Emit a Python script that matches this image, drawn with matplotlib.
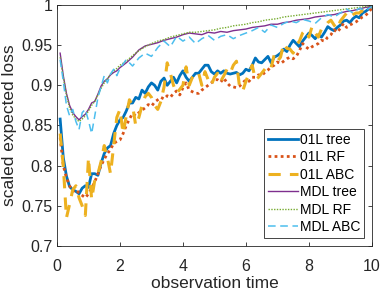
import numpy as np
import matplotlib
matplotlib.use("Agg")
import matplotlib.pyplot as plt

# time grids
t_fine = np.round(np.arange(1, 101) * 0.1, 1)  # 0.1 .. 10.0
t_mdl = [0.1, 0.2, 0.3, 0.4, 0.5, 0.6, 0.7, 0.8, 0.9, 1.0, 1.1, 1.2, 1.3, 1.4, 1.5, 1.6, 1.7, 1.8, 1.9, 2.0,
         2.2, 2.4, 2.6, 2.8, 3.0, 3.2, 3.4, 3.6, 3.8, 4.0, 4.2, 4.4, 4.6, 4.8, 5.0, 5.2, 5.4, 5.6, 5.8, 6.0,
         6.2, 6.4, 6.6, 6.8, 7.0, 7.2, 7.4, 7.6, 7.8, 8.0, 8.2, 8.4, 8.6, 8.8, 9.0, 9.2, 9.4, 9.6, 9.8, 10.0]

loss_01l_tree = [0.858, 0.81, 0.787, 0.774, 0.77, 0.768, 0.765, 0.772, 0.775, 0.773,
                 0.79, 0.79, 0.788, 0.803, 0.815, 0.822, 0.825, 0.84, 0.85, 0.857,
                 0.86, 0.868, 0.878, 0.878, 0.885, 0.883, 0.894, 0.89, 0.898, 0.903,
                 0.9, 0.894, 0.905, 0.909, 0.9, 0.905, 0.91, 0.903, 0.912, 0.918,
                 0.91, 0.905, 0.91, 0.915, 0.915, 0.92, 0.925, 0.925, 0.917, 0.914,
                 0.918, 0.915, 0.918, 0.915, 0.914, 0.915, 0.916, 0.913, 0.915, 0.92,
                 0.918, 0.925, 0.934, 0.929, 0.928, 0.932, 0.936, 0.928, 0.935, 0.937,
                 0.94, 0.945, 0.942, 0.95, 0.956, 0.952, 0.948, 0.955, 0.96, 0.965,
                 0.962, 0.958, 0.963, 0.96, 0.966, 0.973, 0.97, 0.968, 0.972, 0.975,
                 0.98, 0.981, 0.978, 0.983, 0.986, 0.984, 0.99, 0.992, 0.995, 0.998]

loss_01l_rf = [0.835, 0.8, 0.785, 0.775, 0.768, 0.77, 0.766, 0.763, 0.76, 0.765,
               0.772, 0.78, 0.79, 0.8, 0.808, 0.815, 0.82, 0.828, 0.83, 0.832,
               0.84, 0.85, 0.858, 0.865, 0.862, 0.866, 0.869, 0.872, 0.876, 0.874,
               0.879, 0.882, 0.885, 0.883, 0.887, 0.885, 0.89, 0.893, 0.888, 0.897,
               0.903, 0.894, 0.892, 0.89, 0.89, 0.894, 0.897, 0.9, 0.903, 0.907,
               0.907, 0.904, 0.909, 0.903, 0.899, 0.898, 0.897, 0.899, 0.903, 0.907,
               0.905, 0.91, 0.91, 0.913, 0.912, 0.916, 0.919, 0.923, 0.925, 0.929,
               0.927, 0.93, 0.933, 0.935, 0.933, 0.936, 0.943, 0.952, 0.948, 0.945,
               0.948, 0.95, 0.952, 0.956, 0.955, 0.96, 0.963, 0.969, 0.966, 0.971,
               0.977, 0.972, 0.975, 0.977, 0.979, 0.982, 0.985, 0.987, 0.991, 0.996]

loss_01l_abc = [0.84, 0.8, 0.735, 0.752, 0.77, 0.775, 0.76, 0.75, 0.738, 0.81,
                0.758, 0.782, 0.79, 0.805, 0.825, 0.81, 0.79, 0.825, 0.86, 0.87,
                0.84, 0.862, 0.882, 0.875, 0.85, 0.86, 0.875, 0.886, 0.89, 0.885,
                0.875, 0.87, 0.88, 0.898, 0.928, 0.915, 0.9, 0.89, 0.895, 0.9,
                0.923, 0.9, 0.91, 0.916, 0.915, 0.9, 0.917, 0.907, 0.9, 0.91,
                0.915, 0.905, 0.912, 0.92, 0.915, 0.925, 0.93, 0.897, 0.893, 0.905,
                0.915, 0.925, 0.907, 0.91, 0.915, 0.92, 0.925, 0.922, 0.938, 0.93,
                0.935, 0.952, 0.946, 0.945, 0.94, 0.95, 0.955, 0.965, 0.969, 0.96,
                0.973, 0.965, 0.96, 0.97, 0.973, 0.978, 0.981, 0.975, 0.97, 0.98,
                0.985, 0.99, 0.985, 0.988, 0.99, 0.99, 0.993, 0.992, 0.995, 0.997]

loss_mdl_tree = [0.94, 0.912, 0.89, 0.875, 0.866, 0.861, 0.857, 0.861, 0.864, 0.870,
                 0.878, 0.880, 0.889, 0.899, 0.905, 0.908, 0.913, 0.916, 0.918, 0.922,
                 0.928, 0.935, 0.944, 0.949, 0.951, 0.953, 0.956, 0.958, 0.960, 0.963,
                 0.965, 0.964, 0.963, 0.966, 0.965, 0.967, 0.966, 0.968, 0.969, 0.970,
                 0.972, 0.973, 0.974, 0.976, 0.976, 0.978, 0.979, 0.981, 0.982, 0.983,
                 0.985, 0.986, 0.987, 0.988, 0.990, 0.992, 0.993, 0.995, 0.997, 0.998]

loss_mdl_rf = [0.935, 0.91, 0.888, 0.872, 0.863, 0.858, 0.855, 0.858, 0.862, 0.868,
               0.875, 0.88, 0.888, 0.896, 0.903, 0.908, 0.914, 0.918, 0.921, 0.925,
               0.93, 0.937, 0.943, 0.948, 0.952, 0.955, 0.957, 0.96, 0.962, 0.964,
               0.966, 0.966, 0.967, 0.968, 0.969, 0.971, 0.972, 0.974, 0.975, 0.976,
               0.978, 0.979, 0.981, 0.982, 0.983, 0.985, 0.986, 0.987, 0.988, 0.989,
               0.99, 0.991, 0.992, 0.993, 0.994, 0.995, 0.996, 0.997, 0.998, 0.999]

loss_mdl_abc = [0.932, 0.905, 0.875, 0.862, 0.87, 0.855, 0.845, 0.866, 0.87, 0.856,
                0.84, 0.862, 0.885, 0.898, 0.912, 0.903, 0.914, 0.92, 0.912, 0.921,
                0.932, 0.924, 0.934, 0.94, 0.936, 0.947, 0.955, 0.948, 0.961, 0.955,
                0.96, 0.952, 0.958, 0.962, 0.956, 0.961, 0.963, 0.958, 0.962, 0.965,
                0.968, 0.972, 0.966, 0.975, 0.972, 0.977, 0.98, 0.978, 0.982, 0.98,
                0.977, 0.984, 0.988, 0.985, 0.99, 0.995, 0.99, 0.996, 0.993, 0.998]

x_ticks = [0, 2, 4, 6, 8, 10]
y_ticks = [0.7, 0.75, 0.8, 0.85, 0.9, 0.95, 1]
y_tick_labels = ["0.7", "0.75", "0.8", "0.85", "0.9", "0.95", "1"]

plt.rcParams["font.family"] = ["Liberation Sans", "DejaVu Sans"]

fig = plt.figure(figsize=(3.81, 2.91), dpi=100)
ax = fig.add_axes([0.1496, 0.1546, 0.8264, 0.8284])

ax.plot(t_fine, loss_01l_tree, color="#0072BD", linewidth=2.0, label="01L tree")
ax.plot(t_fine, loss_01l_rf, color="#D95319", linewidth=2.0, linestyle=(0, (1, 1.2)), label="01L RF")
ax.plot(t_fine, loss_01l_abc, color="#EDB120", linewidth=2.2, linestyle=(0, (4, 3)), label="01L ABC")
ax.plot(t_mdl, loss_mdl_tree, color="#7E2F8E", linewidth=1.0, label="MDL tree")
ax.plot(t_mdl, loss_mdl_rf, color="#77AC30", linewidth=1.0, linestyle=(0, (1, 1)), label="MDL RF")
ax.plot(t_mdl, loss_mdl_abc, color="#4DBEEE", linewidth=1.1, linestyle=(0, (5, 3)), label="MDL ABC")

ax.set_xlim(0, 10)
ax.set_ylim(0.7, 1)
ax.set_xticks(x_ticks)
ax.set_yticks(y_ticks)
ax.set_yticklabels(y_tick_labels)
ax.tick_params(direction="in", top=True, right=True, labelsize=11.5, colors="#262626",
               length=3, width=0.6)
ax.tick_params(axis="x", pad=9)
ax.tick_params(axis="y", pad=3)
for sp in ax.spines.values():
    sp.set_color("#262626")
    sp.set_linewidth(0.6)
ax.set_xlabel("observation time", fontsize=12.5, color="#262626", labelpad=2)
ax.set_ylabel("scaled expected loss", fontsize=12.5, color="#262626", labelpad=3)

leg = ax.legend(loc="lower right", fontsize=10, handlelength=2.15, handletextpad=0.15,
                labelspacing=0.25, borderpad=0.3, borderaxespad=0.55, fancybox=False,
                framealpha=1, edgecolor="#262626")
leg.get_frame().set_linewidth(0.6)

fig.savefig("out.png", dpi=100)
